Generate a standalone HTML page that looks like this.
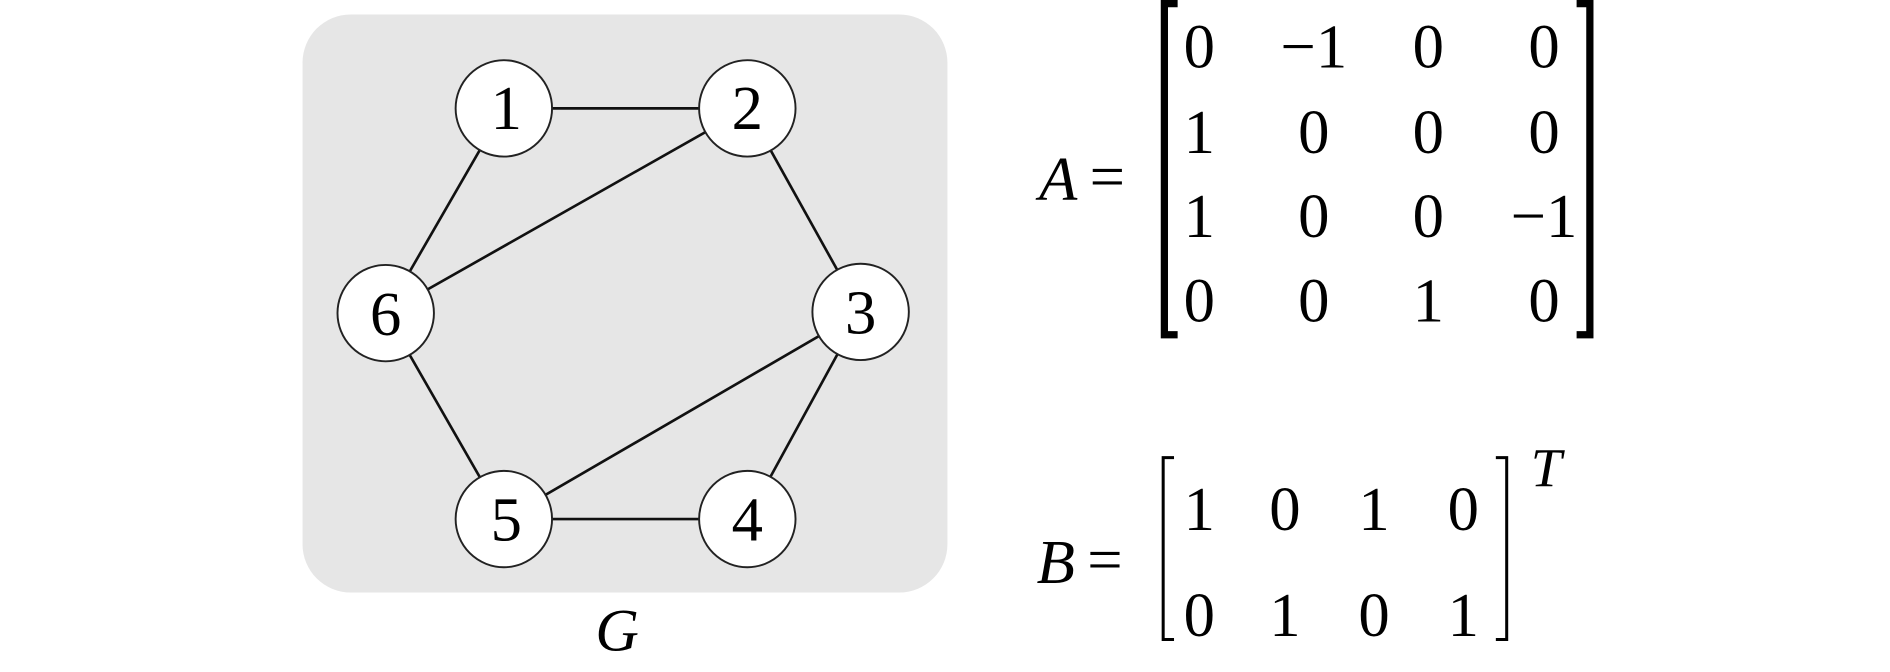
<!DOCTYPE html>
<html><head><meta charset="utf-8"><style>
html,body{margin:0;padding:0;background:#fff;}
svg{display:block;}
</style></head><body>
<svg width="1890" height="672" viewBox="0 0 1568 558" xmlns="http://www.w3.org/2000/svg" preserveAspectRatio="none" font-family="'Liberation Serif', 'Times New Roman', Times, serif">
<rect x="0" y="0" width="1568" height="558" fill="#fff"/>
<rect x="251" y="12" width="535" height="480" rx="40" ry="40" fill="#e6e6e6"/>
<g stroke="#111" stroke-width="2.2">
<line x1="418" y1="90" x2="620" y2="90"/>
<line x1="620" y1="90" x2="714" y2="259"/>
<line x1="714" y1="259" x2="620" y2="431"/>
<line x1="620" y1="431" x2="418" y2="431"/>
<line x1="418" y1="431" x2="320" y2="260"/>
<line x1="320" y1="260" x2="418" y2="90"/>
<line x1="320" y1="260" x2="620" y2="90"/>
<line x1="418" y1="431" x2="714" y2="259"/>
</g>
<g fill="#fff" stroke="#222" stroke-width="1.6">
<circle cx="418" cy="90" r="40"/>
<circle cx="620" cy="90" r="40"/>
<circle cx="714" cy="259" r="40"/>
<circle cx="620" cy="431" r="40"/>
<circle cx="418" cy="431" r="40"/>
<circle cx="320" cy="260" r="40"/>
</g>
<g font-size="52" text-anchor="middle" font-family="'Liberation Serif', serif">
<text x="420" y="107">1</text>
<text x="620" y="107">2</text>
<text x="714" y="277">3</text>
<text x="620" y="449">4</text>
<text x="420" y="449">5</text>
<text x="320" y="278">6</text>
</g>
<text x="512" y="540" font-size="50" font-style="italic" text-anchor="middle" font-family="'Liberation Serif', serif">G</text>

<g font-family="'Liberation Serif', serif">
<text x="862" y="166" font-size="52" font-style="italic">A</text>
<text x="904" y="164" font-size="52">=</text>
<text x="860" y="484" font-size="52" font-style="italic">B</text>
<text x="902" y="482" font-size="52">=</text>
</g>
<g fill="none" stroke="#000">
<path d="M977 3 H966 V278 H977" stroke-width="6"/>
<path d="M1308 3 H1319 V278 H1308" stroke-width="6"/>
<path d="M974 380 H965 V531 H974" stroke-width="2.5"/>
<path d="M1241 380 H1250 V531 H1241" stroke-width="2.5"/>
</g>
<g font-size="52" text-anchor="middle" font-family="'Liberation Serif', serif">
<text x="995" y="56">0</text><text x="1090" y="56">−1</text><text x="1185" y="56">0</text><text x="1281" y="56">0</text>
<text x="995" y="127">1</text><text x="1090" y="127">0</text><text x="1185" y="127">0</text><text x="1281" y="127">0</text>
<text x="995" y="197">1</text><text x="1090" y="197">0</text><text x="1185" y="197">0</text><text x="1281" y="197">−1</text>
<text x="995" y="267">0</text><text x="1090" y="267">0</text><text x="1185" y="267">1</text><text x="1281" y="267">0</text>
<text x="995" y="440">1</text><text x="1066" y="440">0</text><text x="1140" y="440">1</text><text x="1214" y="440">0</text>
<text x="995" y="528">0</text><text x="1066" y="528">1</text><text x="1140" y="528">0</text><text x="1214" y="528">1</text>
</g>
<text x="1270" y="404" font-size="46" font-style="italic" font-family="'Liberation Serif', serif">T</text>
</svg>
</body></html>
